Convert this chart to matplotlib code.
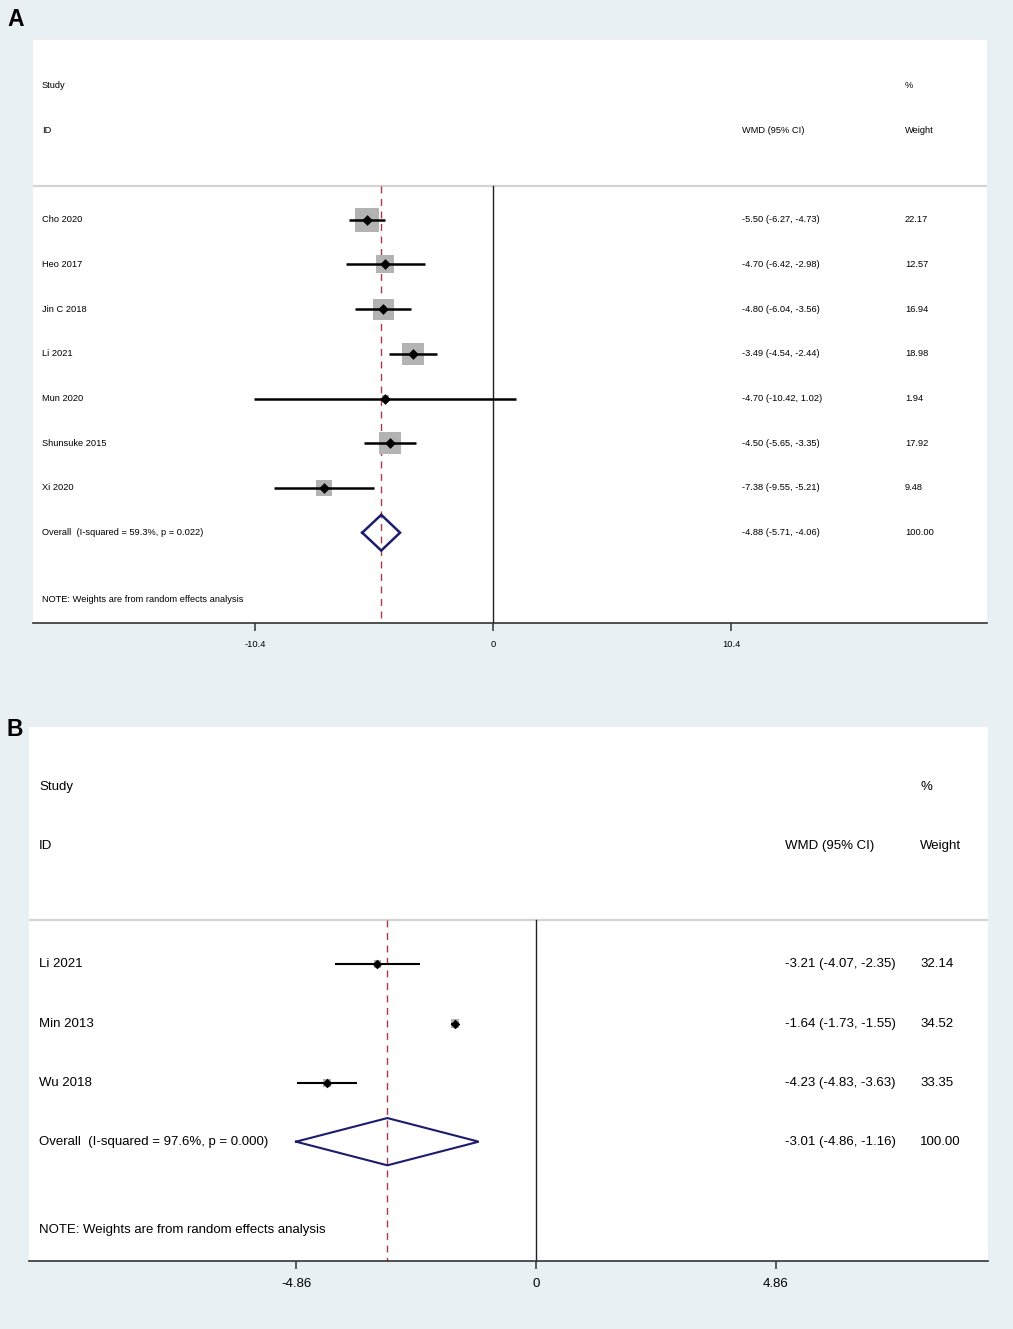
# -*- coding: utf-8 -*-
"""
Forest plot, two panels (A, B), Stata metan style.
"""
import matplotlib
matplotlib.use("Agg")
import matplotlib.pyplot as plt
import matplotlib.transforms as mtrans

plt.rcParams['font.family'] = ['Liberation Sans', 'DejaVu Sans']

# ---- panel A data
studiesA = ["Cho 2020", "Heo 2017", "Jin C 2018", "Li 2021", "Mun 2020",
            "Shunsuke 2015", "Xi 2020"]
wmdA = [-5.50, -4.70, -4.80, -3.49, -4.70, -4.50, -7.38]
loA = [-6.27, -6.42, -6.04, -4.54, -10.42, -5.65, -9.55]
hiA = [-4.73, -2.98, -3.56, -2.44, 1.02, -3.35, -5.21]
weightA = [22.17, 12.57, 16.94, 18.98, 1.94, 17.92, 9.48]
overallA = (-4.88, -5.71, -4.06)
hetA = "Overall  (I-squared = 59.3%, p = 0.022)"
ticksA = [-10.4, 0, 10.4]
tickLabelsA = ["-10.4", "0", "10.4"]

# ---- panel B data
studiesB = ["Li 2021", "Min 2013", "Wu 2018"]
wmdB = [-3.21, -1.64, -4.23]
loB = [-4.07, -1.73, -4.83]
hiB = [-2.35, -1.55, -3.63]
weightB = [32.14, 34.52, 33.35]
overallB = (-3.01, -4.86, -1.16)
hetB = "Overall  (I-squared = 97.6%, p = 0.000)"
ticksB = [-4.86, 0, 4.86]
tickLabelsB = ["-4.86", "0", "4.86"]

arkaPlan = "#e8f0f3"
W, H = 1013, 1329


def panel(rect_px, xlim, studies, wmd, lo, hi, wt, overall, het, ticks, tlabels,
          fs, kutu, lw, nokta, col_x, harf, harf_xy):
    left, top, right, bottom = rect_px
    ax = fig.add_axes([left / W, 1 - bottom / H, (right - left) / W, (bottom - top) / H])
    ax.set_facecolor("white")
    n = len(studies)
    ax.set_xlim(*xlim)
    ax.set_ylim(n + 2.02, -4.02)
    for s in ["top", "left", "right"]:
        ax.spines[s].set_visible(False)
    ax.spines["bottom"].set_color("#333333")
    ax.spines["bottom"].set_linewidth(1.2)
    ax.set_yticks([])
    ax.set_xticks(ticks)
    ax.set_xticklabels(tlabels, fontsize=fs)
    ax.tick_params(axis="x", direction="out", length=5.5, width=1.1, pad=6.5,
                   color="#333333")

    trans = mtrans.blended_transform_factory(ax.transAxes, ax.transData)

    # header separator line
    ax.axhline(-0.75, color="#d4d4d4", lw=1.6, zorder=1)
    # zero line and overall line
    ax.plot([0, 0], [-0.75, n + 2.02], color="#222222", lw=1.0, zorder=2, clip_on=False)
    ax.plot([overall[0], overall[0]], [-0.75, n + 2.02], color="#a83a4c", lw=1.0,
            ls=(0, (5, 4)), zorder=2, clip_on=False)

    rows = list(range(n))
    # weight boxes
    ax.scatter(wmd, rows, marker="s", s=[(kutu * w ** 0.5 * 0.72) ** 2 for w in wt],
               color="#b3b3b3", linewidths=0, zorder=3)
    # CI lines
    ax.hlines(rows, lo, hi, color="black", lw=lw, zorder=4)
    ax.scatter(wmd, rows, marker="D", s=nokta, color="black", linewidths=0, zorder=5)

    # overall diamond
    est, l, h = overall
    ax.plot([l, est, h, est, l], [n, n - 0.4, n, n + 0.4, n], color="#1c1c6e",
            lw=lw, zorder=5, solid_joinstyle="miter")

    xs, xw, xp = col_x
    ax.text(xs, -3, "Study", transform=trans, fontsize=fs, va="center")
    ax.text(xs, -2, "ID", transform=trans, fontsize=fs, va="center")
    ax.text(xw, -2, "WMD (95% CI)", transform=trans, fontsize=fs, va="center")
    ax.text(xp, -3, "%", transform=trans, fontsize=fs, va="center")
    ax.text(xp, -2, "Weight", transform=trans, fontsize=fs, va="center")
    for i in range(n):
        ax.text(xs, i, studies[i], transform=trans, fontsize=fs, va="center")
        ax.text(xw, i, "%.2f (%.2f, %.2f)" % (wmd[i], lo[i], hi[i]),
                transform=trans, fontsize=fs, va="center")
        ax.text(xp, i, "%.2f" % wt[i], transform=trans, fontsize=fs, va="center")
    ax.text(xs, n, het, transform=trans, fontsize=fs, va="center")
    ax.text(xw, n, "%.2f (%.2f, %.2f)" % overall, transform=trans, fontsize=fs, va="center")
    ax.text(xp, n, "100.00", transform=trans, fontsize=fs, va="center")
    ax.text(xs, n + 1.5, "NOTE: Weights are from random effects analysis",
            transform=trans, fontsize=fs, va="center")

    fig.text(harf_xy[0] / W, 1 - harf_xy[1] / H, harf, fontsize=16.5, fontweight="bold",
             va="center", ha="left")
    return ax


fig = plt.figure(figsize=(W / 100, H / 100), dpi=100, facecolor=arkaPlan)

# panel A: white box 33..987 px, 40..623 px; 0 at x=493, 22.9 px per unit
panel((33, 40, 987, 623), (-460 / 22.9, 494 / 22.9), studiesA, wmdA, loA, hiA, weightA,
      overallA, hetA, ticksA, tickLabelsA, 6.7, 5.1, 1.8, 30,
      (9 / 954, 709 / 954, 872 / 954), "A", (7, 20))

# panel B: white box 29..988 px, 727..1261 px; 0 at x=536, 49.38 px per unit
panel((29, 727, 988, 1261), (-507 / 49.38, 452 / 49.38), studiesB, wmdB, loB, hiB, weightB,
      overallB, hetB, ticksB, tickLabelsB, 9.5, 1.4, 1.5, 24,
      (10 / 959, 756 / 959, 891 / 959), "B", (7, 729))

fig.savefig("out.png", dpi=100, facecolor=arkaPlan)
